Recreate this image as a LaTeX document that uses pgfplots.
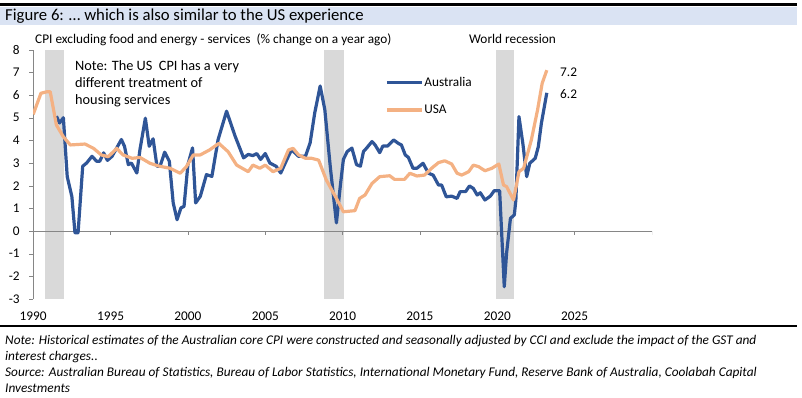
\documentclass[border=0pt]{standalone}
\usepackage{pgfplots}
\pgfplotsset{compat=1.18}
\usepackage{fontspec}
\setmainfont{Carlito}
\definecolor{aus}{RGB}{47,85,151}
\definecolor{usa}{RGB}{244,177,131}
\definecolor{axgray}{RGB}{134,134,134}
\definecolor{bandgray}{RGB}{217,217,217}
\definecolor{titleband}{RGB}{218,227,243}
\begin{document}
\begin{tikzpicture}[x=1pt,y=1pt]
\path[use as bounding box] (0,0) rectangle (802,398);
\fill[titleband] (0,373) rectangle (797,391);
\draw[black, line width=2.5pt] (0,393.5) -- (797,393.5);
\node[anchor=base west, inner sep=0, font=\fontsize{16.7}{19}\selectfont] at (5,377) {Figure 6: … which is also similar to the US experience};
\draw[black, line width=2.5pt] (0,72) -- (797,72);
\begin{scope}[every node/.style={anchor=base west, inner sep=0, font=\fontsize{13.3}{15}\selectfont\itshape}]
\node at (5,53) {Note: Historical estimates of the Australian core CPI were constructed and seasonally adjusted by CCI and exclude the impact of the GST and};
\node at (5,37) {interest charges..};
\node at (5,21) {Source: Australian Bureau of Statistics, Bureau of Labor Statistics, International Monetary Fund, Reserve Bank of Australia, Coolabah Capital};
\node at (5,5) {Investments};
\end{scope}
\begin{scope}[every node/.style={anchor=base west, inner sep=0, font=\fontsize{13.3}{15}\selectfont}]
\node at (35,354) {CPI excluding food and energy - services~ (\% change on a year ago)};
\node at (469,354) {World recession};
\end{scope}
\begin{scope}[every node/.style={anchor=base west, inner sep=0, font=\fontsize{14.3}{16}\selectfont}]
\node at (75,327) {Note: The US~ CPI has a very};
\node at (75,310) {different treatment of};
\node at (75,293) {housing services};
\end{scope}
\begin{scope}[every node/.style={anchor=base west, inner sep=0, font=\fontsize{13.3}{15}\selectfont}]
\node at (560,321) {7.2};
\node at (560,299) {6.2};
\end{scope}
\begin{axis}[
  at={(33.2pt,99pt)}, anchor=south west, scale only axis,
  width=618.8pt, height=249.2pt,
  xmin=1990, xmax=2030, ymin=-3, ymax=8,
  axis y line*=left, axis x line*=bottom,
  axis line style={-, draw=axgray},
  x axis line style={draw=none},
  xtick={1990,1995,...,2025}, ytick={-3,-2,...,8},
  xtick style={draw=none},
  ytick style={draw=axgray},
  tick align=outside, major tick length=4pt,
  ticklabel style={font=\fontsize{13.3}{15}\selectfont},
  /pgf/number format/assume math mode=true,
  /pgf/number format/1000 sep={},
  xticklabel style={yshift=-5pt},
  yticklabel style={xshift=-6pt},
  legend style={at={(0.5637,0.903)}, anchor=north west, draw=none, fill=none,
    font=\fontsize{13.3}{15}\selectfont, row sep=15pt,
    nodes={inner sep=1pt}},
  legend cell align=left,
  legend image code/.code={\draw[#1] (0pt,0pt) -- (35pt,0pt);},
]
\addplot[fill=bandgray, draw=none, forget plot] coordinates {(1990.76,-3) (1990.76,8) (1992.0,8) (1992.0,-3)} -- cycle;
\addplot[fill=bandgray, draw=none, forget plot] coordinates {(2008.82,-3) (2008.82,8) (2010.1,8) (2010.1,-3)} -- cycle;
\addplot[fill=bandgray, draw=none, forget plot] coordinates {(2019.9,-3) (2019.9,8) (2021.1,8) (2021.1,-3)} -- cycle;
\addplot[axgray, line width=0.8pt, forget plot] coordinates {(1990,0) (2030,0)};
\pgfplotsinvokeforeach{1995,2000,2005,2010,2015,2020,2025,2030}{
  \draw[axgray, line width=0.8pt] (axis cs:#1,0) -- ++(0pt,-4pt);
}
\addplot[aus, line width=3.2pt, line join=round] coordinates {
(1991.5,5.07) (1991.7,4.77) (1991.95,5.0) (1992.2,2.4) (1992.5,1.52) (1992.7,-0.08) (1992.9,-0.08)
(1993.2,2.86) (1993.45,3.0) (1993.8,3.3) (1994.1,3.08) (1994.3,3.08) (1994.55,3.45) (1994.8,3.12)
(1995.1,3.3) (1995.4,3.67) (1995.7,4.04) (1995.9,3.74) (1996.15,2.93) (1996.35,3.0) (1996.7,2.56)
(1996.9,3.59) (1997.25,4.98) (1997.5,3.74) (1997.75,4.07) (1998.0,2.86) (1998.2,2.86) (1998.5,3.48)
(1998.8,3.08) (1999.05,1.24) (1999.3,0.5) (1999.55,1.02) (1999.75,1.09) (2000.0,2.93) (2000.3,3.67)
(2000.5,1.24) (2000.8,1.53) (2001.2,2.49) (2001.55,2.41) (2001.95,4.03) (2002.5,5.29) (2003.05,4.19)
(2003.6,3.23) (2003.9,3.38) (2004.2,3.33) (2004.45,3.42) (2004.7,3.16) (2005.0,3.42) (2005.3,3.0)
(2005.7,2.86) (2006.0,2.56) (2006.4,3.16) (2006.7,3.59) (2007.15,3.3) (2007.6,3.3) (2007.9,3.89)
(2008.2,5.22) (2008.55,6.4) (2008.85,5.36) (2009.2,2.86) (2009.6,0.36) (2009.85,1.98) (2010.05,3.16)
(2010.3,3.51) (2010.6,3.66) (2010.9,2.93) (2011.15,2.86) (2011.35,3.51) (2011.55,3.66) (2011.9,3.95)
(2012.1,3.8) (2012.4,3.46) (2012.6,3.75) (2012.9,3.75) (2013.3,4.02) (2013.6,3.87) (2013.8,3.8)
(2014.05,3.36) (2014.25,3.25) (2014.55,2.77) (2014.8,2.77) (2015.2,2.99) (2015.55,2.55) (2015.85,2.47)
(2016.2,2.03) (2016.4,2.03) (2016.7,1.51) (2017.05,1.54) (2017.4,1.44) (2017.6,1.74) (2017.95,1.74)
(2018.2,1.99) (2018.45,1.88) (2018.7,1.59) (2018.9,1.69) (2019.2,1.37) (2019.55,1.54) (2019.8,1.78)
(2020.15,1.78) (2020.45,-2.46) (2020.6,-0.97) (2020.85,0.56) (2021.1,0.71) (2021.2,1.37) (2021.4,5.05)
(2021.65,3.87) (2021.9,2.4) (2022.1,2.99) (2022.45,3.21) (2022.65,3.72) (2022.85,4.76) (2023.2,6.1)
};
\addlegendentry{Australia}
\addplot[usa, line width=3.2pt, line join=round] coordinates {
(1990.0,5.15) (1990.5,6.08) (1990.9,6.15) (1991.1,6.15) (1991.5,4.68) (1991.95,4.16) (1992.4,3.8)
(1993.35,3.84) (1993.9,3.65) (1994.4,3.36) (1994.85,3.28) (1995.4,3.65) (1995.8,3.36) (1996.4,3.21)
(1996.9,3.25) (1997.55,2.99) (1998.1,2.87) (1998.85,2.77) (1999.5,2.55) (1999.9,2.84) (2000.35,3.36)
(2000.8,3.36) (2001.4,3.58) (2002.0,3.87) (2002.6,3.5) (2003.15,2.91) (2003.9,2.62) (2004.2,2.91)
(2004.65,2.77) (2005.0,2.91) (2005.5,2.62) (2006.0,2.77) (2006.5,3.58) (2006.8,3.65) (2007.15,3.36)
(2007.6,3.21) (2008.0,3.21) (2008.45,3.13) (2008.95,2.25) (2009.6,1.44) (2010.05,0.85) (2010.8,0.9)
(2011.1,1.44) (2011.45,1.59) (2011.9,2.1) (2012.4,2.4) (2013.05,2.44) (2013.35,2.28) (2014.0,2.28)
(2014.35,2.55) (2014.8,2.43) (2015.3,2.47) (2015.75,2.77) (2016.2,3.02) (2016.6,3.1) (2017.05,2.96)
(2017.4,2.55) (2017.7,2.47) (2018.15,2.62) (2018.45,2.91) (2018.8,2.84) (2019.2,2.66) (2019.65,2.77)
(2020.1,2.96) (2020.4,2.03) (2020.6,1.96) (2021.05,1.37) (2021.4,2.62) (2021.7,2.77) (2022.2,4.02)
(2022.6,5.34) (2022.9,6.52) (2023.2,7.1)
};
\addlegendentry{USA}
\end{axis}
\end{tikzpicture}
\end{document}
